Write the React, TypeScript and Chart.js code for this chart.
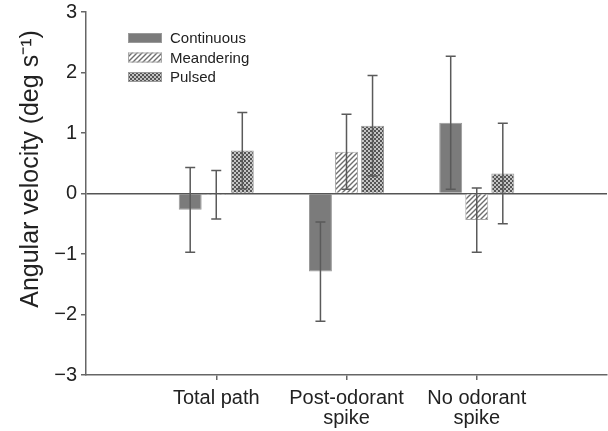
import React, { useEffect, useRef } from "react";
import { Chart, registerables } from "chart.js";

Chart.register(...registerables);

const categories: (string | string[])[] = ["", "Total path", ["Post-odorant", "spike"], ["No odorant", "spike"], ""];
const seriesNames = ["Continuous", "Meandering", "Pulsed"];
const continuous = [null, -0.27, -1.29, 1.17, null];
const continuousErr = [null, 0.7, 0.82, 1.1, null];
const meandering = [null, -0.02, 0.69, -0.44, null];
const meanderingErr = [null, 0.4, 0.62, 0.53, null];
const pulsed = [null, 0.71, 1.12, 0.33, null];
const pulsedErr = [null, 0.63, 0.83, 0.83, null];
const yTicks = [-3, -2, -1, 0, 1, 2, 3];

const FONT = "'Liberation Sans', Arial, Helvetica, sans-serif";

function makeHatch(): CanvasPattern | string {
  const c = document.createElement("canvas");
  const s = 5;
  c.width = s;
  c.height = s;
  const g = c.getContext("2d");
  if (!g) return "#ccc";
  g.fillStyle = "#ffffff";
  g.fillRect(0, 0, s, s);
  g.strokeStyle = "#6e6e6e";
  g.lineWidth = 1.4;
  g.beginPath();
  g.moveTo(0, s);
  g.lineTo(s, 0);
  g.moveTo(-1, 1);
  g.lineTo(1, -1);
  g.moveTo(s - 1, s + 1);
  g.lineTo(s + 1, s - 1);
  g.stroke();
  return g.createPattern(c, "repeat") || "#ccc";
}

function makeChecker(): CanvasPattern | string {
  const c = document.createElement("canvas");
  c.width = 4;
  c.height = 4;
  const g = c.getContext("2d");
  if (!g) return "#777";
  g.fillStyle = "#c4c4c4";
  g.fillRect(0, 0, 4, 4);
  g.fillStyle = "#555555";
  g.fillRect(0, 0, 2, 2);
  g.fillRect(2, 2, 2, 2);
  return g.createPattern(c, "repeat") || "#777";
}

export default function App() {
  const ref = useRef<HTMLCanvasElement | null>(null);

  useEffect(() => {
    if (!ref.current) return;
    const errs = [continuousErr, meanderingErr, pulsedErr];
    const vals = [continuous, meandering, pulsed];

    const errorBars = {
      id: "errorBars",
      afterDatasetsDraw(chart: any) {
        const ctx = chart.ctx;
        const y = chart.scales.y;
        ctx.save();
        ctx.strokeStyle = "#5a5a5a";
        ctx.lineWidth = 1.5;
        chart.data.datasets.forEach((_d: any, di: number) => {
          const meta = chart.getDatasetMeta(di);
          meta.data.forEach((el: any, i: number) => {
            const v = vals[di][i];
            const e = errs[di][i];
            if (v == null || e == null) return;
            const x = el.x;
            const yt = y.getPixelForValue(v + e);
            const yb = y.getPixelForValue(v - e);
            ctx.beginPath();
            ctx.moveTo(x, yt);
            ctx.lineTo(x, yb);
            ctx.moveTo(x - 5, yt);
            ctx.lineTo(x + 5, yt);
            ctx.moveTo(x - 5, yb);
            ctx.lineTo(x + 5, yb);
            ctx.stroke();
          });
        });
        ctx.restore();
      },
    };

    const customText = {
      id: "customText",
      afterDraw(chart: any) {
        const ctx = chart.ctx;
        ctx.save();
        // legend
        ctx.font = `15px ${FONT}`;
        ctx.textBaseline = "middle";
        ctx.textAlign = "left";
        chart.data.datasets.forEach((d: any, i: number) => {
          const cy = 38 + i * 19.5;
          ctx.fillStyle = d.backgroundColor;
          ctx.fillRect(128, cy - 5, 34, 10);
          ctx.strokeStyle = d.borderColor;
          ctx.lineWidth = 1;
          ctx.strokeRect(128.5, cy - 4.5, 33, 9);
          ctx.fillStyle = "#222";
          ctx.fillText(d.label, 170, cy + 1);
        });
        // y title
        ctx.translate(38, 169);
        ctx.rotate(-Math.PI / 2);
        ctx.font = `25px ${FONT}`;
        ctx.textAlign = "center";
        ctx.textBaseline = "alphabetic";
        ctx.fillStyle = "#222";
        ctx.fillText("Angular velocity (deg s\u207B\u00B9)", 0, 0);
        ctx.restore();
      },
    };

    const hatch = makeHatch();
    const checker = makeChecker();

    const chart = new Chart(ref.current, {
      type: "bar",
      data: {
        labels: categories,
        datasets: [
          { label: seriesNames[0], data: continuous, backgroundColor: "#7b7b7b", borderColor: "#9a9a9a", borderWidth: 1 },
          { label: seriesNames[1], data: meandering, backgroundColor: hatch as any, borderColor: "#a8a8a8", borderWidth: 1 },
          { label: seriesNames[2], data: pulsed, backgroundColor: checker as any, borderColor: "#9a9a9a", borderWidth: 1 },
        ],
      },
      options: {
        responsive: false,
        animation: false,
        events: [],
        layout: { padding: { top: 12, right: 1, left: 0, bottom: 0 } },
        datasets: { bar: { categoryPercentage: 0.6, barPercentage: 0.88 } },
        plugins: {
          legend: { display: false },
          tooltip: { enabled: false },
        },
        scales: {
          x: {
            type: "category",
            offset: false,
            afterFit(s: any) {
              s.height = 56;
              s.paddingLeft = 0;
              s.paddingRight = 0;
            },
            grid: {
              offset: false,
              drawOnChartArea: false,
              tickLength: 5,
              tickColor: (c: any) => (c.index === 0 || c.index === categories.length - 1 ? "rgba(0,0,0,0)" : "#666"),
              lineWidth: 1.5,
            },
            border: { color: "#666", width: 1.5 },
            ticks: {
              color: "#222",
              font: { family: FONT, size: 20, lineHeight: 1.0 },
              padding: 8,
              maxRotation: 0,
              autoSkip: false,
            },
          },
          y: {
            min: -3,
            max: 3,
            afterFit(s: any) {
              s.width = 86;
              s.paddingTop = 0;
              s.paddingBottom = 0;
            },
            afterBuildTicks(s: any) {
              s.ticks = yTicks.map((v) => ({ value: v }));
            },
            grid: {
              color: (c: any) => (c.tick && c.tick.value === 0 ? "#555" : "rgba(0,0,0,0)"),
              lineWidth: 1.5,
              tickColor: "#666",
              tickLength: 5,
            },
            border: { color: "#666", width: 1.5 },
            ticks: {
              color: "#222",
              font: { family: FONT, size: 20 },
              padding: 4,
              callback: (v: any) => (Number(v) < 0 ? "\u2212" + Math.abs(Number(v)) : String(v)),
            },
          },
        },
      },
      plugins: [errorBars, customText],
    });
    return () => chart.destroy();
  }, []);

  return (
    <div style={{ position: "fixed", left: 0, top: 0, width: 608, height: 431, background: "#fff" }}>
      <canvas ref={ref} width={608} height={431} style={{ width: 608, height: 431, display: "block" }} />
    </div>
  );
}
